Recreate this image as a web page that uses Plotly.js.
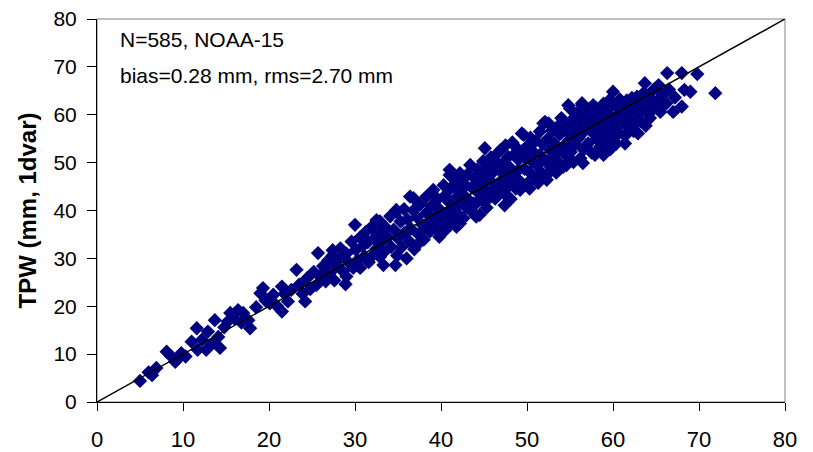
<!DOCTYPE html>
<html>
<head>
<meta charset="utf-8">
<script src="https://cdn.plot.ly/plotly-3.0.1.min.js"></script>
<style>html,body{margin:0;padding:0;background:#fff;}#chart{width:813px;height:452px;}</style>
</head>
<body>
<div id="chart"></div>
<script>
// Reference TPW (x) vs 1dvar TPW (y), mm, grouped by x range
var x05_22 = [5.0,6.0,6.4,6.9,8.1,8.6,9.1,9.4,9.8,10.3,11.0,11.6,11.7,12.2,12.7,12.9,13.4,13.7,14.1,14.3,14.8,15.2,15.5,16.0,16.4,16.8,17.0,17.6,17.8,18.5,19.0,19.3,19.6,20.1,20.5,20.9,21.5,21.5,21.8,22.2,22.6];
var y05_22 = [4.4,6.2,5.6,7.1,10.5,9.6,8.4,9.0,10.2,9.5,12.6,15.4,10.9,13.0,10.9,14.7,12.2,17.1,13.6,11.3,15.6,16.8,18.6,17.4,19.2,16.6,18.6,17.1,15.4,19.8,22.7,23.8,21.2,20.6,22.4,20.1,24.1,18.9,22.6,21.0,23.4];

var x23_32 = [23.2,23.5,23.9,24.2,24.4,24.8,25.2,25.5,25.7,25.9,26.3,26.6,26.9,27.1,27.4,27.4,27.6,27.9,
              28.2,28.3,28.6,28.9,29.0,29.0,29.3,29.6,29.8,30.0,30.1,30.3,30.6,30.6,30.9,31.1,31.3,31.5,31.6,31.9,32.1,32.2,32.5,32.5];
var y23_32 = [27.6,24.5,22.6,21.0,25.8,23.6,27.2,24.4,31.1,26.3,28.4,25.2,29.6,27.0,30.6,31.7,25.4,28.5,
              29.9,32.1,27.3,24.6,26.2,31.0,29.1,33.5,28.0,37.0,31.8,29.6,28.0,34.4,32.6,30.4,35.6,33.4,29.2,36.5,30.7,34.1,32.0,38.0];

var x33_41 = [32.8,32.9,32.9,33.0,33.3,33.3,33.6,33.8,34.1,34.2,34.5,34.7,34.8,34.8,34.9,35.0,35.3,35.4,35.7,35.8,36.0,36.1,36.3,36.4,36.5,36.8,36.8,36.9,
              37.2,37.2,37.4,37.6,37.9,38.0,38.3,38.3,38.5,38.7,38.9,39.1,39.2,39.4,39.6,39.8,39.9,40.1,40.3,40.4,40.5,40.7,40.7,40.9,41.0,41.0,41.1,41.3,41.6,41.8,41.8,41.9];
var y33_41 = [35.3,37.7,30.3,33.2,28.6,31.2,36.4,34.3,38.8,32.4,36.0,28.6,39.7,40.1,30.6,34.2,37.7,32.3,40.3,35.4,30.0,38.1,33.6,42.9,36.2,42.6,40.0,31.9,
              32.8,38.6,35.0,41.3,36.9,33.9,42.9,39.5,37.4,35.6,41.0,44.3,38.6,36.2,42.4,34.5,40.1,37.8,45.3,43.0,35.9,36.6,39.6,41.8,47.4,48.5,44.6,38.3,40.5,46.0,36.6,42.9];

var x42_48 = [42.0,42.1,42.2,42.2,42.3,42.4,42.6,42.7,42.9,42.9, 43.1,43.2,43.4,43.5,43.6,43.8,43.9,
              44.1,44.1,44.2,44.4,44.5,44.6,44.8,44.9,44.9, 45.1,45.1,45.3,45.4,45.5,45.7,45.8,45.9,
              46.0,46.2,46.3,46.4,46.6,46.7,46.9,46.9, 47.1,47.2,47.4,47.4,47.5,47.6,47.8,47.9,
              48.0,48.1,48.3,48.4,48.5,48.7,48.8,48.9];
var y42_48 = [39.2,44.0,47.8,37.3,41.6,46.3,38.4,43.1,45.2,40.7, 47.6,42.2,49.5,39.9,44.8,41.5,46.7,
              41.5,38.7,48.6,43.6,39.1,45.9,42.1,50.3,47.8, 53.0,44.5,40.6,49.2,46.6,42.8,51.1,44.1,
              47.9,50.5,42.5,45.3,52.0,48.6,52.6,44.0, 46.4,49.9,41.1,43.4,53.6,47.8,51.2,45.1,
              49.0,42.4,54.2,46.9,51.7,44.6,53.1,48.3];

var x49_56 = [49.0,49.2,49.2,49.4,49.5,49.6,49.7,49.9, 50.0,50.1,50.3,50.3,50.4,50.6,50.7,50.9,
              51.0,51.2,51.3,51.5,51.5,51.7,51.8,51.9, 52.1,52.2,52.3,52.3,52.5,52.5,52.7,52.8,52.9,
              53.1,53.2,53.4,53.5,53.6,53.8,53.8,53.9, 54.0,54.2,54.3,54.4,54.6,54.6,54.8,54.8,54.9,
              55.0,55.1,55.2,55.4,55.5,55.6,55.8,55.9, 56.0,56.2,56.3,56.4,56.4,56.5,56.6,56.7,56.9];
var y49_56 = [50.6,44.3,46.1,56.1,52.4,55.8,48.7,50.9, 45.6,53.6,44.6,48.0,55.2,50.2,52.3,46.9,
              54.5,49.4,45.8,56.5,51.6,47.9,53.9,58.2, 58.5,50.3,47.4,46.4,58.2,55.1,52.6,49.0,56.7,
              51.4,54.0,47.9,57.4,50.2,48.8,55.9,52.8, 59.3,49.1,53.5,56.8,49.5,51.4,62.0,58.1,54.7,
              61.3,52.2,56.0,50.1,59.4,53.8,57.6,60.4, 55.1,50.9,58.9,62.0,62.4,49.9,52.7,56.6,60.2];

var x57_65 = [57.1,57.2,57.3,57.5,57.6,57.7,57.8,57.9, 58.1,58.2,58.3,58.5,58.6,58.7,58.9,58.9,
              59.0,59.2,59.3,59.4,59.6,59.7,59.8,59.9, 60.0,60.1,60.3,60.4,60.5,60.7,60.8,60.9,
              61.1,61.2,61.4,61.4,61.5,61.6,61.8,61.9, 62.1,62.2,62.4,62.5,62.7,62.8,62.9,62.9,
              63.1,63.2,63.4,63.6,63.7,63.8,63.9, 64.1,64.3,64.3,64.5,64.7,64.9,
              65.1,65.3,65.5,65.6,65.8,65.9];
var y57_65 = [54.0,58.1,61.3,52.1,56.3,62.0,59.5,51.6, 55.0,57.9,61.1,53.3,59.6,56.4,51.6,62.3,
              58.3,54.6,60.9,56.9,63.1,52.8,59.5,55.6, 64.8,57.7,61.8,54.0,59.9,56.2,63.2,60.6,
              58.4,62.1,54.0,55.6,60.2,63.0,57.3,61.0, 59.0,63.5,56.6,61.6,58.3,63.8,56.1,60.4,
              62.7,58.6,60.9,64.6,66.6,57.7,62.0, 60.1,59.3,63.5,61.4,65.2,61.7,
              62.8,66.2,60.6,64.6,64.1,61.9];

var x66_72 = [66.2,66.3,66.5,67.0,67.2,68.0,68.0,68.3,69.0,69.8,71.9];
var y66_72 = [62.4,68.7,65.3,60.6,63.6,61.7,68.7,65.2,64.8,68.5,64.5];

// 1:1 reference line
var lineX = [0, 80];
var lineY = [0, 80];

var xTicks = [0,10,20,30,40,50,60,70,80];
var yTicks = [0,10,20,30,40,50,60,70,80];
var noteLine1 = 'N=585, NOAA-15';
var noteLine2 = 'bias=0.28 mm, rms=2.70 mm';
var yTitle = 'TPW (mm, 1dvar)';

var xs = [].concat(x05_22, x23_32, x33_41, x42_48, x49_56, x57_65, x66_72);
var ys = [].concat(y05_22, y23_32, y33_41, y42_48, y49_56, y57_65, y66_72);

var FONT = 'Liberation Sans, Arial, sans-serif';

var traces = [
  {x: xs, y: ys, type: 'scatter', mode: 'markers', hoverinfo: 'skip',
   marker: {symbol: 'diamond', size: 11, color: '#000080', line: {width: 0}}},
  {x: lineX, y: lineY, type: 'scatter', mode: 'lines', hoverinfo: 'skip',
   line: {color: '#000000', width: 1.5}}
];

var layout = {
  width: 813, height: 452,
  margin: {l: 97, r: 28, t: 19, b: 50, pad: 0},
  paper_bgcolor: '#ffffff', plot_bgcolor: '#ffffff',
  showlegend: false,
  font: {family: FONT, color: '#000000'},
  xaxis: {
    range: [0, 80], tickvals: xTicks, ticktext: xTicks.map(String),
    ticks: 'outside', ticklen: 8, tickwidth: 1, tickcolor: '#000000',
    showline: true, linecolor: '#000000', linewidth: 1,
    showgrid: false, zeroline: false, fixedrange: true,
    tickfont: {family: FONT, size: 22, color: '#000000'},
    ticklabelstandoff: 10
  },
  yaxis: {
    range: [0, 80], tickvals: yTicks, ticktext: yTicks.map(String),
    ticks: 'outside', ticklen: 9, tickwidth: 1, tickcolor: '#000000',
    showline: true, linecolor: '#000000', linewidth: 1,
    showgrid: false, zeroline: false, fixedrange: true,
    tickfont: {family: FONT, size: 21, color: '#000000'},
    ticklabelstandoff: 6,
    title: {text: yTitle, font: {family: FONT, size: 24, weight: 'bold', color: '#000000'}, standoff: 10}
  },
  shapes: [
    {type: 'rect', xref: 'paper', yref: 'paper', x0: 0, x1: 1, y0: 0, y1: 1,
     line: {color: '#808080', width: 1}, layer: 'below'}
  ],
  annotations: [
    {xref: 'paper', yref: 'paper', x: 0.0305, y: 0.9465, xanchor: 'left', yanchor: 'middle',
     text: noteLine1, showarrow: false, font: {family: FONT, size: 21, color: '#000000'}},
    {xref: 'paper', yref: 'paper', x: 0.0305, y: 0.852, xanchor: 'left', yanchor: 'middle',
     text: noteLine2, showarrow: false, font: {family: FONT, size: 21, color: '#000000'}}
  ]
};

Plotly.newPlot('chart', traces, layout, {staticPlot: true, displayModeBar: false});
</script>
</body>
</html>
